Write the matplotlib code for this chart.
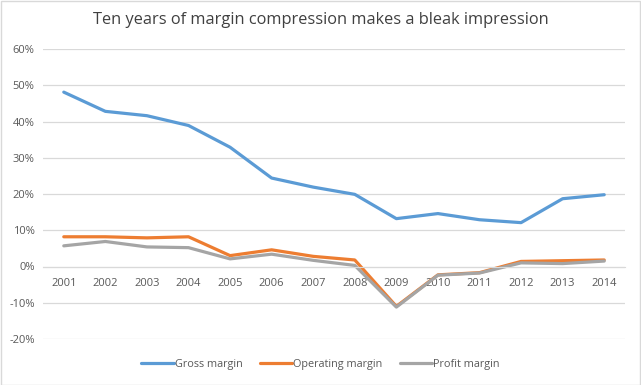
import matplotlib
matplotlib.use("Agg")
import matplotlib.pyplot as plt
from matplotlib.ticker import FuncFormatter, MultipleLocator

years = ["2001", "2002", "2003", "2004", "2005", "2006", "2007",
         "2008", "2009", "2010", "2011", "2012", "2013", "2014"]
gross_margin = [48.1, 42.8, 41.6, 38.9, 32.9, 24.4, 21.9, 19.9, 13.2, 14.6, 12.9, 12.1, 18.7, 19.8]
operating_margin = [8.2, 8.2, 7.9, 8.2, 3.0, 4.6, 2.8, 1.8, -11.0, -2.3, -1.7, 1.4, 1.6, 1.8]
profit_margin = [5.7, 6.9, 5.4, 5.2, 2.1, 3.4, 1.7, 0.3, -11.2, -2.4, -1.8, 1.0, 0.8, 1.5]

plt.rcParams['font.family'] = ['Open Sans', 'DejaVu Sans']

fig = plt.figure(figsize=(6.41, 3.85), dpi=100)
ax = fig.add_axes([43/641, 1 - 339/385, (625 - 43)/641, (339 - 49)/385])

x = list(range(len(years)))
ax.plot(x, gross_margin, color="#5B9BD5", lw=2.3, label="Gross margin", solid_capstyle="round")
ax.plot(x, operating_margin, color="#ED7D31", lw=2.3, label="Operating margin", solid_capstyle="round")
ax.plot(x, profit_margin, color="#A5A5A5", lw=2.3, label="Profit margin", solid_capstyle="round")

ax.set_xlim(-0.5, len(years) - 0.5)
ax.set_ylim(-20, 60)
ax.yaxis.set_major_locator(MultipleLocator(10))
ax.yaxis.set_major_formatter(FuncFormatter(lambda v, p: f"{v:.0f}%"))
ax.set_xticks(x)
ax.set_xticklabels(years)
ax.grid(axis="y", color="#D9D9D9", lw=0.9)
ax.set_axisbelow(True)
for s in ["top", "right", "left"]:
    ax.spines[s].set_visible(False)
ax.spines["bottom"].set_position(("data", 0))
ax.spines["bottom"].set_color("#D9D9D9")
ax.tick_params(axis="both", length=0, colors="#595959", labelsize=8)
ax.tick_params(axis="x", pad=8)
ax.tick_params(axis="y", pad=6)

fig.text(0.5, 1 - 20/385, "Ten years of margin compression makes a bleak impression",
         ha="center", va="center", fontsize=11.8, color="#404040")

fig.legend(loc="center", bbox_to_anchor=(0.5, 1 - 364/385), ncol=3, frameon=False,
           fontsize=7.8, labelcolor="#595959", handlelength=3.0, handletextpad=0.1,
           columnspacing=1.6)

border = plt.Rectangle((0.001, 0.001), 0.997, 0.997, transform=fig.transFigure,
                       fill=False, edgecolor="#D9D9D9", lw=1)
fig.patches.append(border)

fig.savefig("out.png", dpi=100)
